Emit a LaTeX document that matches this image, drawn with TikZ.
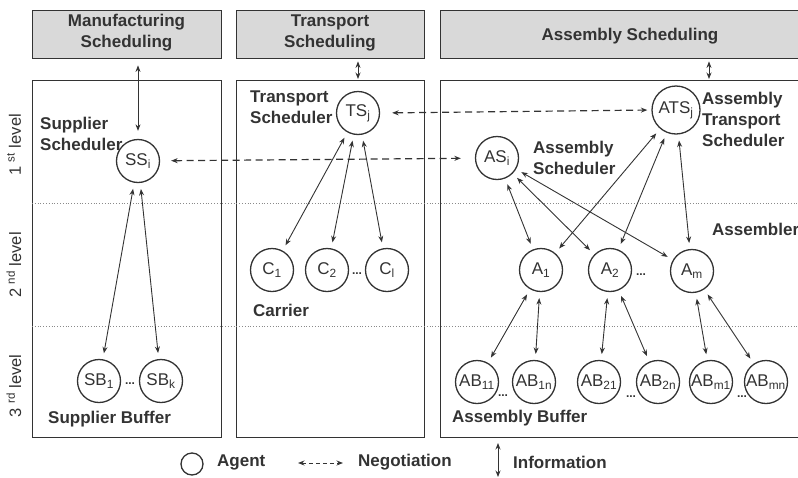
\documentclass[tikz,border=0pt]{standalone}
\usepackage{fontspec}
\setmainfont{Liberation Sans}
\usetikzlibrary{arrows.meta}
\definecolor{ink}{HTML}{333333}
\definecolor{boxfill}{HTML}{D9D9D9}
\definecolor{dotcol}{HTML}{8A8A8A}
\begin{document}
\begin{tikzpicture}[x=1pt,y=-1pt,
  frame/.style={draw=ink, line width=1.4pt, inner sep=0pt, anchor=north west},
  header/.style={frame, fill=boxfill},
  headtext/.style={inner sep=0pt, align=center, text=ink, font=\fontsize{17}{21}\selectfont\bfseries},
  agent/.style={circle, draw=ink, line width=1.3pt, minimum size=43pt, inner sep=0pt, text=ink, font=\fontsize{17}{18}\selectfont},
  lbl/.style={anchor=west, align=left, inner sep=0pt, text=ink, font=\fontsize{17}{21}\selectfont\bfseries},
  lvl/.style={rotate=90, inner sep=0pt, text=ink, font=\fontsize{16.5}{18}\selectfont},
  dots/.style={inner sep=0pt, text=ink, font=\fontsize{12}{12}\selectfont\bfseries},
  tip/.style={>={Stealth[length=6.5pt,width=5pt]}},
  info/.style={tip, <->, draw=ink, line width=0.9pt, shorten >=6pt, shorten <=6pt},
  nego/.style={tip, <->, draw=ink, line width=1.2pt, dash pattern=on 7pt off 4.5pt},
  divider/.style={draw=dotcol, line width=0.8pt, dotted}
]
\useasboundingbox (0,0) rectangle (798,477);

% header boxes
\node[header, minimum width=189pt, minimum height=48pt] (mhead) at (32,10) {};
\node[header, minimum width=188pt, minimum height=48pt] (thead) at (236,10) {};
\node[header, minimum width=380pt, minimum height=48pt] (ahead) at (440,10) {};
\node[headtext] (mheadt) at (126.5,33) {Manufacturing\\Scheduling};
\node[headtext] (theadt) at (330,33) {Transport\\Scheduling};
\node[headtext] (aheadt) at (630,36) {Assembly Scheduling};

% main panels
\node[frame, minimum width=189pt, minimum height=357pt] (pM) at (32,80) {};
\node[frame, minimum width=188pt, minimum height=357pt] (pT) at (236,80) {};
\node[frame, minimum width=380pt, minimum height=357pt] (pA) at (440,80) {};

% level dividers
\draw[divider] (32,203) -- (805,203);
\draw[divider] (32,326) -- (805,326);

% level labels
\node[lvl] (l1) at (14,145) {1 \textsuperscript{st} level};
\node[lvl] (l2) at (14,265) {2 \textsuperscript{nd} level};
\node[lvl] (l3) at (14,386) {3 \textsuperscript{rd} level};

% agents
\node[agent] (SS) at (138,161) {SS\textsubscript{i}};
\node[agent] (TS) at (358,113) {TS\textsubscript{j}};
\node[agent, minimum size=48pt] (ATS) at (676,110) {ATS\textsubscript{j}};
\node[agent] (AS) at (497,158) {AS\textsubscript{i}};
\node[agent] (C1) at (272,270) {C\textsubscript{1}};
\node[agent] (C2) at (327,270) {C\textsubscript{2}};
\node[agent] (Cl) at (387,270) {C\textsubscript{l}};
\node[agent] (SB1) at (99,381) {SB\textsubscript{1}};
\node[agent] (SBk) at (161,381) {SB\textsubscript{k}};
\node[agent] (A1) at (541,270) {A\textsubscript{1}};
\node[agent] (A2) at (610,270) {A\textsubscript{2}};
\node[agent] (Am) at (692,271) {A\textsubscript{m}};
\node[agent] (AB11) at (477,382) {AB\textsubscript{11}};
\node[agent] (AB1n) at (534,382) {AB\textsubscript{1n}};
\node[agent] (AB21) at (599,382) {AB\textsubscript{21}};
\node[agent] (AB2n) at (658,382) {AB\textsubscript{2n}};
\node[agent] (ABm1) at (711,382) {AB\textsubscript{m1}};
\node[agent] (ABmn) at (766,382) {AB\textsubscript{mn}};

% dots
\node[dots] (d1) at (130,384) {...};
\node[dots] (d2) at (357,274) {...};
\node[dots] (d3) at (641,275) {...};
\node[dots] (d4) at (503,396) {...};
\node[dots] (d5) at (631,397) {...};
\node[dots] (d6) at (742,397) {...};

% labels
\node[lbl] (tSS) at (40,134) {Supplier\\Scheduler};
\node[lbl] (tTS) at (250,107) {Transport\\Scheduler};
\node[lbl] (tATS) at (702,119) {Assembly\\Transport\\Scheduler};
\node[lbl] (tAS) at (533,158) {Assembly\\Scheduler};
\node[lbl] (tA) at (712,229) {Assembler};
\node[lbl] (tC) at (253,310) {Carrier};
\node[lbl] (tSB) at (48,419) {Supplier Buffer};
\node[lbl] (tAB) at (452,418) {Assembly Buffer};

% information arrows
\draw[info, shorten <=6pt, shorten >=8pt] (mhead.south -| SS) -- (SS);
\draw[info, shorten <=2pt, shorten >=1pt] (thead.south -| TS) -- (pT.north -| TS);
\coordinate (axa) at (709,0);
\draw[info, shorten <=2pt, shorten >=1pt] (ahead.south -| axa) -- (pA.north -| axa);

\draw[info] (SS) -- (SB1);
\draw[info] (SS) -- (SBk);
\draw[info] (TS) -- (C1);
\draw[info] (TS) -- (C2);
\draw[info] (TS) -- (Cl);
\draw[info] (AS) -- (A1);
\draw[info] (AS) -- (A2);
\draw[info] (AS) -- (Am);
\draw[info] (ATS) -- (A1);
\draw[info] (ATS) -- (A2);
\draw[info] (ATS) -- (Am);
\draw[info] (A1) -- (AB11);
\draw[info] (A1) -- (AB1n);
\draw[info] (A2) -- (AB21);
\draw[info] (A2) -- (AB2n);
\draw[info] (Am) -- (ABm1);
\draw[info] (Am) -- (ABmn);

% negotiation arrows
\draw[nego, shorten <=11pt, shorten >=14pt] (SS) -- (AS);
\draw[nego, shorten <=12pt, shorten >=4pt] (TS.east) -- (ATS.west);

% legend
\node[agent, minimum size=22pt] (legA) at (192,464) {};
\node[lbl] (legAt) at (217,462) {Agent};
\coordinate (ln1) at (298,463);
\coordinate (ln2) at (343,463);
\draw[nego, line width=1pt, dash pattern=on 4pt off 3pt] (ln1) -- (ln2);
\node[lbl] (legNt) at (358,462) {Negotiation};
\coordinate (li1) at (498,443);
\coordinate (li2) at (498,477);
\draw[info, shorten <=0pt, shorten >=0pt] (li1) -- (li2);
\node[lbl] (legIt) at (513,462) {Information};
\end{tikzpicture}
\end{document}
